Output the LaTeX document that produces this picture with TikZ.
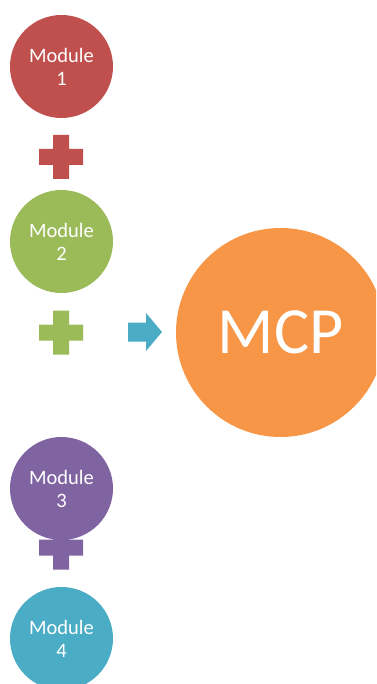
\documentclass[tikz,border=0pt]{standalone}
\usepackage{fontspec}
\setmainfont{Carlito}
\definecolor{cred}{HTML}{C0504D}
\definecolor{cgreen}{HTML}{9BBB59}
\definecolor{cpurple}{HTML}{8064A2}
\definecolor{caqua}{HTML}{4BACC6}
\definecolor{corange}{HTML}{F79646}
\begin{document}
\begin{tikzpicture}[x=1pt,y=-1pt,
  modcircle/.style={circle,minimum size=103pt,inner sep=0pt,text=white,align=center,
    font=\fontsize{20.5}{23}\selectfont},
  bigcircle/.style={circle,minimum size=209pt,inner sep=0pt,text=white,fill=corange,
    font=\fontsize{66}{70}\selectfont},
  pics/plussign/.style={code={
    \fill[#1] (-8,-22) -- ++(16,0) -- ++(0,14) -- ++(14,0) -- ++(0,16) -- ++(-14,0)
      -- ++(0,14) -- ++(-16,0) -- ++(0,-14) -- ++(-14,0) -- ++(0,-16) -- ++(14,0) -- cycle;
  }}]
\useasboundingbox (0,0) rectangle (376,684);
\clip (0,0) rectangle (376,684);
% module 1
\node[modcircle,fill=cred] (m1) at (61.5,66.5) {Module\\1};
\pic at (61,157) {plussign=cred};
% module 2
\node[modcircle,fill=cgreen] (m2) at (61.5,241.5) {Module\\2};
\pic at (61,332.5) {plussign=cgreen};
% module 3 with plus behind
\pic at (61,547.5) {plussign=cpurple};
\node[modcircle,fill=cpurple] (m3) at (61.5,488.5) {Module\\3};
% module 4
\node[modcircle,fill=caqua] (m4) at (61.5,638.5) {Module\\4};
% arrow
\fill[caqua] (128,322.5) -- (146,322.5) -- (146,313) -- (162,332) -- (146,351)
  -- (146,341.5) -- (128,341.5) -- cycle;
% MCP
\node[bigcircle] (mcp) at (280.5,332.5) {MCP};
\end{tikzpicture}
\end{document}
